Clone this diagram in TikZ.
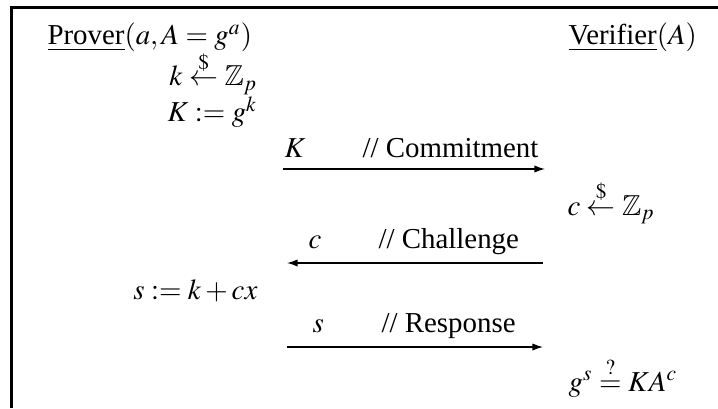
\documentclass[tikz,border=0pt]{standalone}
\usepackage{amsmath}
\usepackage{amssymb}
\usepackage{mathptmx}
\usepackage[no-math]{fontspec}
\setmainfont{Liberation Serif}
\usetikzlibrary{arrows.meta}

\begin{document}
\begin{tikzpicture}[
    x=0.36pt, y=-0.36pt,
    every node/.style={font=\fontsize{10.4pt}{12.5pt}\selectfont},
    party/.style={inner sep=0pt, anchor=base west},
    lstep/.style={inner sep=0pt, anchor=base east},
    rstep/.style={inner sep=0pt, anchor=base west},
    lbl/.style={inner sep=0pt, anchor=base west},
    msg/.style={-{Latex[length=3.8pt, width=2.6pt]}, line width=0.45pt},
    frame/.style={line width=0.8pt}
]
\useasboundingbox (0,0) rectangle (718,408);

% Frame (only top and left edges are visible)
\coordinate (frameBL) at (11.5,408);
\coordinate (frameTL) at (11.5,7.5);
\coordinate (frameTR) at (718,7.5);
\draw[frame] (frameBL) -- (frameTL) -- (frameTR);

% Parties
\node[party] (prover) at (47,45) {\underline{Prover}$(a,A = g^a)$};
\node[party] (verifier) at (568,45) {\underline{Verifier}$(A)$};

% Prover: commitment
\node[lstep] (ksample) at (258,86) {$k \stackrel{\$}{\leftarrow} \mathbb{Z}_p$};
\node[lstep] (kassign) at (258,122) {$K := g^k$};

% Message 1
\coordinate (commitL) at (283,169);
\coordinate (commitR) at (545,169);
\draw[msg] (commitL) -- (commitR);
\node[lbl] (commitK) at (284,158) {$K$};
\node[lbl] (commitTxt) at (362,158) {// Commitment};

% Verifier: challenge
\node[rstep] (csample) at (567,215) {$c \stackrel{\$}{\leftarrow} \mathbb{Z}_p$};

% Message 2
\coordinate (challR) at (543,263);
\coordinate (challL) at (287,263);
\draw[msg] (challR) -- (challL);
\node[lbl] (challC) at (308,248) {$c$};
\node[lbl] (challTxt) at (378,248) {// Challenge};

% Prover: response
\node[lstep] (sassign) at (258,299) {$s := k + cx$};

% Message 3
\coordinate (respL) at (287,347);
\coordinate (respR) at (543,347);
\draw[msg] (respL) -- (respR);
\node[lbl] (respS) at (312,332) {$s$};
\node[lbl] (respTxt) at (381,332) {// Response};

% Verifier: check
\node[rstep] (check) at (568,391) {$g^s \stackrel{?}{=} KA^c$};

\end{tikzpicture}
\end{document}
